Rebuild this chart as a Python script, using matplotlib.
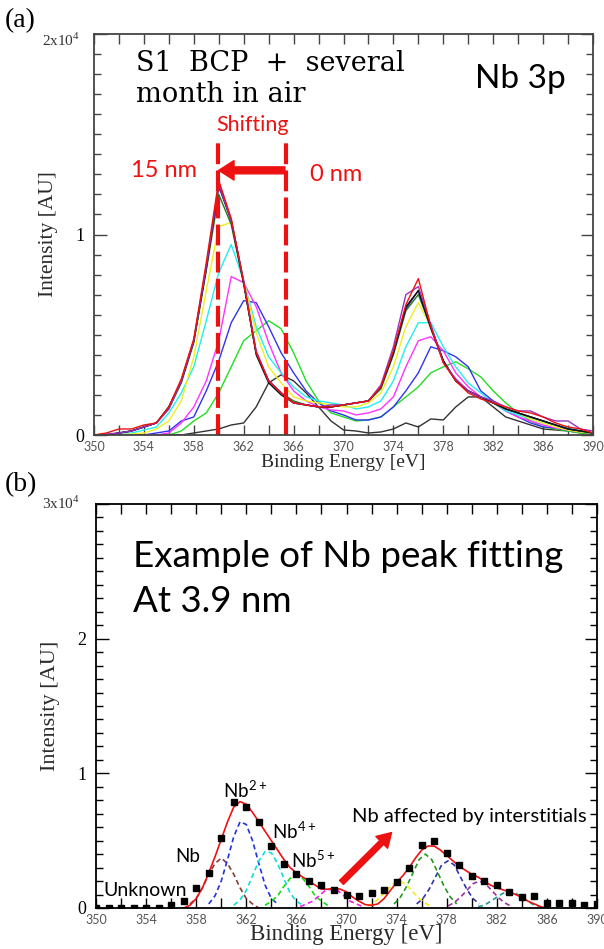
import numpy as np
import matplotlib
matplotlib.use("Agg")
import matplotlib.pyplot as plt
from matplotlib.ticker import MultipleLocator

# binding energy grid for panel (a), intensities in units of 1e4
energy = list(range(350, 391))

surface_0nm = [0.0, 0.0, 0.0, 0.0, 0.0, 0.0, 0.0, 0.0, 0.01, 0.02, 0.03, 0.05, 0.06, 0.14, 0.26, 0.30,
               0.27, 0.21, 0.14, 0.07, 0.025, 0.02, 0.01, 0.015, 0.03, 0.06, 0.04, 0.08, 0.075, 0.14,
               0.19, 0.19, 0.14, 0.09, 0.07, 0.05, 0.03, 0.025, 0.02, 0.01, 0.005]
green_c = [0.0, 0.0, 0.0, 0.0, 0.0, 0.0, 0.0, 0.02, 0.07, 0.11, 0.21, 0.34, 0.47, 0.52, 0.57, 0.53,
           0.41, 0.27, 0.17, 0.11, 0.09, 0.07, 0.075, 0.09, 0.14, 0.19, 0.24, 0.31, 0.34, 0.365,
           0.33, 0.29, 0.22, 0.16, 0.11, 0.07, 0.04, 0.03, 0.02, 0.01, 0.005]
blue_c = [0.0, 0.0, 0.0, 0.0, 0.0, 0.01, 0.02, 0.07, 0.09, 0.22, 0.37, 0.56, 0.67, 0.66, 0.54, 0.41,
          0.31, 0.22, 0.16, 0.12, 0.10, 0.075, 0.075, 0.09, 0.14, 0.22, 0.31, 0.44, 0.42, 0.39,
          0.34, 0.22, 0.17, 0.12, 0.09, 0.06, 0.04, 0.035, 0.025, 0.02, 0.01]
magenta_c = [0.0, 0.0, 0.0, 0.0, 0.0, 0.0, 0.01, 0.06, 0.14, 0.27, 0.47, 0.79, 0.76, 0.64, 0.46, 0.31,
             0.22, 0.17, 0.14, 0.125, 0.12, 0.10, 0.11, 0.13, 0.19, 0.34, 0.47, 0.49, 0.42, 0.31,
             0.24, 0.19, 0.16, 0.12, 0.09, 0.07, 0.05, 0.035, 0.025, 0.015, 0.01]
cyan_c = [0.0, 0.0, 0.01, 0.01, 0.025, 0.04, 0.11, 0.21, 0.34, 0.57, 0.81, 0.95, 0.77, 0.54, 0.39, 0.31,
          0.24, 0.19, 0.17, 0.16, 0.15, 0.13, 0.14, 0.17, 0.27, 0.44, 0.56, 0.56, 0.44, 0.34,
          0.26, 0.21, 0.16, 0.12, 0.10, 0.08, 0.06, 0.05, 0.035, 0.02, 0.01]
yellow_c = [0.0, 0.0, 0.0, 0.005, 0.01, 0.03, 0.07, 0.17, 0.39, 0.72, 1.04, 1.06, 0.77, 0.51, 0.34, 0.26,
            0.19, 0.17, 0.16, 0.15, 0.14, 0.14, 0.16, 0.21, 0.34, 0.54, 0.66, 0.54, 0.37, 0.27,
            0.22, 0.19, 0.16, 0.13, 0.11, 0.08, 0.06, 0.04, 0.025, 0.015, 0.01]
red_c = [0.0, 0.01, 0.03, 0.03, 0.05, 0.06, 0.14, 0.28, 0.48, 0.86, 1.27, 1.08, 0.76, 0.41, 0.27, 0.21,
         0.16, 0.15, 0.14, 0.14, 0.15, 0.16, 0.17, 0.24, 0.42, 0.65, 0.78, 0.54, 0.36, 0.27,
         0.21, 0.18, 0.16, 0.14, 0.12, 0.11, 0.09, 0.06, 0.04, 0.03, 0.01]
purple_c = [0.0, 0.005, 0.01, 0.02, 0.04, 0.06, 0.13, 0.27, 0.47, 0.84, 1.25, 1.07, 0.77, 0.42, 0.27, 0.21,
            0.16, 0.15, 0.14, 0.15, 0.15, 0.16, 0.17, 0.25, 0.44, 0.70, 0.74, 0.55, 0.36, 0.28,
            0.22, 0.19, 0.17, 0.14, 0.12, 0.12, 0.09, 0.07, 0.07, 0.03, 0.02]
dkgreen_c = [0.0, 0.0, 0.01, 0.02, 0.04, 0.06, 0.13, 0.26, 0.46, 0.82, 1.20, 1.05, 0.75, 0.41, 0.27, 0.21,
             0.17, 0.15, 0.14, 0.14, 0.15, 0.16, 0.17, 0.23, 0.40, 0.62, 0.70, 0.54, 0.37, 0.27,
             0.22, 0.19, 0.16, 0.13, 0.11, 0.09, 0.07, 0.05, 0.03, 0.02, 0.01]
navy_c = [0.0, 0.0, 0.01, 0.02, 0.04, 0.06, 0.14, 0.27, 0.47, 0.84, 1.24, 1.07, 0.76, 0.41, 0.27, 0.21,
          0.16, 0.15, 0.14, 0.14, 0.15, 0.16, 0.17, 0.24, 0.41, 0.63, 0.72, 0.54, 0.37, 0.27,
          0.22, 0.19, 0.16, 0.13, 0.11, 0.09, 0.07, 0.05, 0.03, 0.02, 0.01]
black_c = [0.0, 0.0, 0.01, 0.02, 0.04, 0.06, 0.14, 0.27, 0.47, 0.83, 1.25, 1.07, 0.76, 0.40, 0.26, 0.20,
           0.16, 0.15, 0.14, 0.14, 0.15, 0.16, 0.17, 0.24, 0.41, 0.64, 0.72, 0.53, 0.37, 0.27,
           0.22, 0.19, 0.16, 0.13, 0.11, 0.09, 0.07, 0.05, 0.03, 0.02, 0.01]

spectra_a = [(surface_0nm, "#333333"), (green_c, "#22dd22"), (blue_c, "#3333ee"),
             (magenta_c, "#ff33ff"), (cyan_c, "#22eeee"), (yellow_c, "#eeee22"),
             (dkgreen_c, "#227722"), (navy_c, "#1a1a8c"), (black_c, "#111111"),
             (purple_c, "#9933bb"), (red_c, "#ee1111")]

# panel (b): measured points at 3.9 nm
meas_e = list(range(350, 391))
meas_i = [0.0, 0.0, 0.0, 0.0, 0.0, 0.0, 0.02, 0.05, 0.15, 0.26, 0.52, 0.79, 0.75, 0.64, 0.46, 0.33,
          0.25, 0.20, 0.17, 0.13, 0.10, 0.09, 0.11, 0.13, 0.19, 0.30, 0.47, 0.50, 0.41, 0.32,
          0.24, 0.20, 0.17, 0.12, 0.08, 0.09, 0.04, 0.04, 0.04, 0.02, 0.03]

env_e = [357.0, 357.5, 358, 358.5, 359, 359.5, 360, 360.5, 361, 361.5, 362, 362.5, 363, 363.5, 364,
         364.5, 365, 365.5, 366, 366.5, 367, 367.5, 368, 368.5, 369, 369.5, 370, 370.5, 371, 371.5,
         372, 372.5, 373, 373.5, 374, 374.5, 375, 375.5, 376, 376.5, 377, 377.5, 378, 378.5, 379,
         379.5, 380, 380.5, 381, 381.5, 382, 382.5, 383, 383.5, 384, 384.5, 385, 385.5, 386]
env_i = [0.0, 0.02, 0.07, 0.15, 0.26, 0.38, 0.51, 0.64, 0.75, 0.79, 0.77, 0.71, 0.64, 0.57, 0.50,
         0.43, 0.36, 0.30, 0.26, 0.23, 0.20, 0.17, 0.14, 0.14, 0.145, 0.14, 0.12, 0.08, 0.05, 0.025,
         0.02, 0.03, 0.07, 0.13, 0.19, 0.24, 0.30, 0.37, 0.43, 0.46, 0.46, 0.43, 0.39, 0.35, 0.31,
         0.28, 0.25, 0.23, 0.20, 0.17, 0.15, 0.135, 0.12, 0.10, 0.08, 0.05, 0.03, 0.01, 0.0]

comp_nb_e = [357.5, 358, 358.5, 359, 359.5, 360, 360.5, 361, 361.5, 362, 362.5, 363]
comp_nb_i = [0.03, 0.07, 0.15, 0.25, 0.33, 0.37, 0.33, 0.25, 0.15, 0.07, 0.03, 0.0]
comp_nb2_e = [359.0, 359.5, 360.0, 360.5, 361.0, 361.5, 362.0, 362.5, 363.0, 363.5, 364.0, 364.5]
comp_nb2_i = [0.03, 0.09, 0.20, 0.36, 0.53, 0.64, 0.62, 0.50, 0.33, 0.17, 0.07, 0.03]
comp_nb4_e = [361.0, 361.5, 362.0, 362.5, 363.0, 363.5, 364.0, 364.5, 365.0, 365.5, 366.0, 366.5]
comp_nb4_i = [0.02, 0.06, 0.13, 0.24, 0.35, 0.42, 0.41, 0.33, 0.22, 0.11, 0.05, 0.02]
comp_nb5_e = [363.5, 364.0, 364.5, 365.0, 365.5, 366.0, 366.5, 367.0, 367.5, 368.0, 368.5]
comp_nb5_i = [0.02, 0.05, 0.09, 0.16, 0.22, 0.24, 0.22, 0.16, 0.09, 0.05, 0.02]
comp_m_e = [366.3, 366.8, 367.3, 367.8, 368.3, 368.8, 369.3, 369.8, 370.3, 370.8, 371.3]
comp_m_i = [0.01, 0.03, 0.05, 0.09, 0.13, 0.14, 0.13, 0.09, 0.05, 0.03, 0.01]
comp_y_e = [371.7, 372.2, 372.7, 373.2, 373.7, 374.2, 374.7, 375.2, 375.7, 376.2, 376.7]
comp_y_i = [0.015, 0.04, 0.08, 0.13, 0.18, 0.20, 0.18, 0.13, 0.08, 0.04, 0.015]
comp_g_e = [373.8, 374.3, 374.8, 375.3, 375.8, 376.3, 376.8, 377.3, 377.8, 378.3, 378.8]
comp_g_i = [0.03, 0.08, 0.16, 0.26, 0.36, 0.40, 0.36, 0.26, 0.16, 0.08, 0.03]
comp_n_e = [375.6, 376.1, 376.6, 377.1, 377.6, 378.1, 378.6, 379.1, 379.6, 380.1, 380.6]
comp_n_i = [0.03, 0.07, 0.14, 0.23, 0.32, 0.35, 0.32, 0.23, 0.14, 0.07, 0.03]
comp_p_e = [378.1, 378.6, 379.1, 379.6, 380.1, 380.6, 381.1, 381.6, 382.1, 382.6, 383.1]
comp_p_i = [0.015, 0.04, 0.08, 0.13, 0.18, 0.20, 0.18, 0.13, 0.08, 0.04, 0.015]
comp_t_e = [380.5, 381.0, 381.5, 382.0, 382.5, 383.0, 383.5, 384.0, 384.5, 385.0, 385.5]
comp_t_i = [0.01, 0.02, 0.05, 0.08, 0.11, 0.12, 0.11, 0.08, 0.05, 0.02, 0.01]

components = [(comp_nb_e, comp_nb_i, "#8b3a3a"), (comp_nb2_e, comp_nb2_i, "#2233dd"),
              (comp_nb4_e, comp_nb4_i, "#11dddd"), (comp_nb5_e, comp_nb5_i, "#11dd11"),
              (comp_m_e, comp_m_i, "#ee22ee"), (comp_y_e, comp_y_i, "#eeee11"),
              (comp_g_e, comp_g_i, "#229922"), (comp_n_e, comp_n_i, "#3333aa"),
              (comp_p_e, comp_p_i, "#993399"), (comp_t_e, comp_t_i, "#229999")]

xtick_vals = list(range(350, 391, 4))

W, H = 604, 949
fig = plt.figure(figsize=(W / 100, H / 100), dpi=100)
serif = "Liberation Serif"
sans = "Lato"
RED = "#ee1111"


def fx(px):
    return px / W


def fy(py):
    return 1 - py / H


def style_axes(ax, ymax, spine_col):
    ax.set_xlim(350, 390)
    ax.set_ylim(0, ymax)
    ax.set_xticks(xtick_vals)
    ax.xaxis.set_minor_locator(MultipleLocator(2))
    ax.yaxis.set_minor_locator(MultipleLocator(0.1))
    ax.set_yticks(list(range(0, ymax + 1)))
    ax.set_yticklabels([str(v) for v in range(0, ymax)] + [""])
    ax.tick_params(which="both", direction="in", top=True, right=True, color=spine_col)
    ax.tick_params(axis="x", which="both", length=7, width=1, labelsize=9,
                   labelcolor="#555555", pad=4)
    ax.tick_params(axis="y", which="major", length=9, width=1, labelsize=13, pad=7)
    ax.tick_params(axis="y", which="minor", length=5, width=1)
    for lab in ax.get_xticklabels():
        lab.set_fontfamily(sans)
    for lab in ax.get_yticklabels():
        lab.set_fontfamily(serif)
    for s in ax.spines.values():
        s.set_color(spine_col)
        s.set_linewidth(1.3)


# ---------------- panel (a)
ax1 = fig.add_axes([fx(94), fy(435), 499 / W, 401 / H])
for vals, col in spectra_a:
    ax1.plot(energy, vals, color=col, lw=1.0)
style_axes(ax1, 2, "#444444")
ax1.set_xlabel("Binding Energy [eV]", fontfamily=serif, fontsize=14, color="#2a2a2a", labelpad=1)
ax1.set_ylabel("Intensity [AU]", fontfamily=serif, fontsize=15.5, color="#2a2a2a", labelpad=12)

ax1.plot([359.9, 359.9], [0, 1.47], color=RED, lw=3, dashes=(5, 1.5))
ax1.plot([365.4, 365.4], [0, 1.47], color=RED, lw=3, dashes=(5, 1.5))
ax1.annotate("", xy=(360.0, 1.32), xytext=(365.3, 1.32),
             arrowprops=dict(facecolor=RED, edgecolor=RED, width=5,
                             headwidth=14, headlength=11))
ax1.text(355.6, 1.32, "15 nm", color=RED, fontfamily=sans, fontsize=17, ha="center", va="center")
ax1.text(369.4, 1.30, "0 nm", color=RED, fontfamily=sans, fontsize=17, ha="center", va="center")
ax1.text(362.7, 1.545, "Shifting", color=RED, fontfamily=sans, fontsize=15.5, ha="center",
         va="center")
fig.text(fx(136), fy(71), "S1  BCP  +  several", fontfamily="DejaVu Serif", fontsize=19.5,
         va="baseline", ha="left")
fig.text(fx(136), fy(102), "month in air", fontfamily="DejaVu Serif", fontsize=19.5,
         va="baseline", ha="left")
fig.text(fx(566), fy(88), "Nb 3p", fontfamily=sans, fontsize=24, va="baseline", ha="right")

fig.text(fx(5), fy(21), "(a)", fontfamily=serif, fontsize=20, va="center")
fig.text(fx(42), fy(40), r"2x10$^{\mathregular{4}}$", fontfamily=serif, fontsize=11,
         va="center", color="#333333")

# ---------------- panel (b)
ax2 = fig.add_axes([fx(96), fy(908), 501 / W, 404 / H])
for ce, ci, col in components:
    ax2.plot(ce, ci, color=col, lw=1.2, dashes=(3, 2))
ax2.plot(env_e, env_i, color=RED, lw=1.2)
ax2.plot(meas_e, meas_i, "s", color="black", ms=5)
style_axes(ax2, 3, "black")
ax2.set_xlabel("Binding Energy [eV]", fontfamily=serif, fontsize=16.5, color="#2a2a2a",
               labelpad=-1)
ax2.set_ylabel("Intensity [AU]", fontfamily=serif, fontsize=16, color="#2a2a2a", labelpad=12)

fig.text(fx(133), fy(567), "Example of Nb peak fitting", fontfamily=sans, fontsize=26.5,
         va="baseline", ha="left")
fig.text(fx(133), fy(612), "At 3.9 nm", fontfamily=sans, fontsize=26.5,
         va="baseline", ha="left")
lab_kw = dict(fontfamily=sans, ha="center", va="center")
ax2.text(361.9, 0.88, r"Nb$^{\mathregular{2+}}$", fontsize=13.5, **lab_kw)
ax2.text(357.3, 0.38, "Nb", fontsize=13.5, **lab_kw)
ax2.text(365.8, 0.57, r"Nb$^{\mathregular{4+}}$", fontsize=13.5, **lab_kw)
ax2.text(367.3, 0.36, r"Nb$^{\mathregular{5+}}$", fontsize=13.5, **lab_kw)
ax2.text(353.9, 0.13, "Unknown", fontsize=14, **lab_kw)
ax2.text(379.8, 0.68, "Nb affected by interstitials", fontsize=14.5, **lab_kw)
ax2.annotate("", xy=(373.6, 0.56), xytext=(369.6, 0.19),
             arrowprops=dict(facecolor=RED, edgecolor=RED, width=4,
                             headwidth=12, headlength=10))

fig.text(fx(5), fy(485), "(b)", fontfamily=serif, fontsize=20, va="center")
fig.text(fx(42), fy(503), r"3x10$^{\mathregular{4}}$", fontfamily=serif, fontsize=11,
         va="center", color="#333333")

fig.savefig("out.png", dpi=100)
